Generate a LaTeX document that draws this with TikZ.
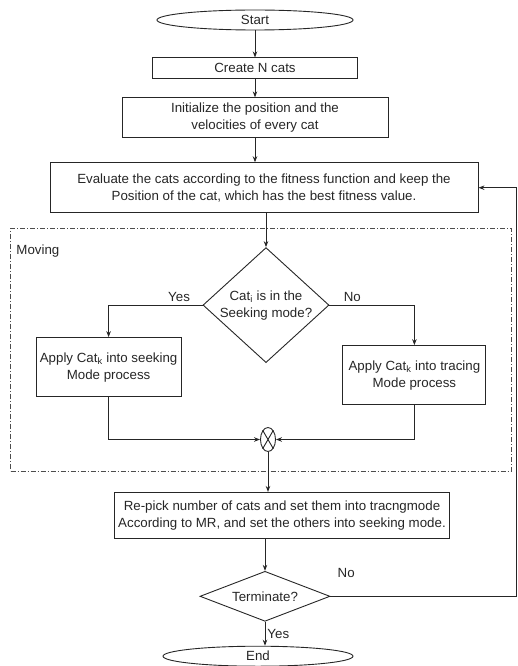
\documentclass[tikz,border=0pt]{standalone}
\usepackage{fontspec}
\setmainfont{Liberation Sans}
\usetikzlibrary{positioning,shapes.geometric,arrows.meta,fit}

\tikzset{
  every node/.style={font=\fontsize{13.3}{17}\selectfont, text=black!85},
  flowline/.style={draw=black!85, line width=0.9pt},
  arrow/.style={flowline, -{Stealth[length=6pt,width=4.5pt]}},
  terminal/.style={ellipse, draw=black!85, line width=0.9pt, inner sep=0pt},
  process/.style={rectangle, draw=black!85, line width=0.9pt, align=center, inner sep=2pt},
  decision/.style={diamond, draw=black!85, line width=0.9pt, align=center, inner sep=0pt},
  junction/.style={ellipse, draw=black!85, line width=0.9pt, minimum width=15pt, minimum height=24pt, inner sep=0pt},
  movingframe/.style={draw=black!70, line width=0.8pt, dash pattern=on 5pt off 2pt on 1pt off 2pt},
}

\begin{document}
\begin{tikzpicture}[x=1pt,y=1pt]

  \useasboundingbox (-255,20) rectangle (263,-646);

  % Start and set-up
  \node[terminal, minimum width=196pt, minimum height=20pt] (start) {Start};
  \node[process, minimum width=205pt, minimum height=21pt, below=27pt of start] (create) {Create N cats};
  \node[process, minimum width=266pt, minimum height=40pt, below=18pt of create] (init) {Initialize the position and the\\velocities of every cat};
  \node[process, minimum width=428pt, minimum height=50pt, below=24pt of init, xshift=9pt] (eval) {Evaluate the cats according to the fitness function and keep the\\Position of the cat, which has the best fitness value.};

  % Moving
  \node[decision, aspect=1.1, minimum width=126pt, minimum height=115pt, below=34pt of eval, xshift=2pt] (seek) {Cat\textsubscript{i} is in the\\Seeking mode?};
  \node[process, minimum width=145pt, minimum height=59pt, left=21pt of seek, yshift=-62pt] (seekbox) {Apply Cat\textsubscript{k} into seeking\\Mode process};
  \node[process, minimum width=143pt, minimum height=59pt, right=13pt of seek, yshift=-70pt] (tracebox) {Apply Cat\textsubscript{k} into tracing\\Mode process};
  \node[junction, below=64pt of seek, xshift=2pt] (merge) {};
  \node[movingframe, fit=(seek)(seekbox)(tracebox)(merge), inner xsep=25pt, inner ysep=19pt] (moving) {};
  \node[below right=17pt and 6pt of moving.north west, inner sep=0pt] (movinglabel) {Moving};

  % Re-pick and stop test
  \node[process, minimum height=46pt, inner xsep=4pt, below=40pt of merge, xshift=14pt] (repick) {Re-pick number of cats and set them into tracngmode\\According to MR, and set the others into seeking mode.};
  \node[decision, aspect=1.8, minimum width=130pt, minimum height=50pt, below=32pt of repick, xshift=-17pt] (term) {Terminate?};
  \node[terminal, minimum width=190pt, minimum height=20pt, below=24pt of term, xshift=-7pt] (end) {End};
  \node[above right=18pt and 7pt of term.east, inner sep=0pt] (termno) {No};
  \coordinate[right=186pt of term.east] (loop);

  % Edges
  \draw[arrow] (start) -- (create);
  \draw[arrow] (create) -- (init);
  \draw[arrow] (init) -- (init.south |- eval.north);
  \draw[arrow] (eval.south -| seek) -- (seek);
  \draw[arrow] (seek.west) -- node[above, pos=0.25] {Yes} (seek.west -| seekbox.north) -- (seekbox.north);
  \draw[arrow] (seek.east) -- node[above, pos=0.27] {No} (seek.east -| tracebox.north) -- (tracebox.north);
  \draw[arrow] (seekbox.south) |- (merge.west);
  \draw[arrow] (tracebox.south) |- (merge.east);
  \draw[flowline] (merge.60) -- (merge.240) (merge.120) -- (merge.300);
  \draw[arrow] (merge.south) -- (merge.south |- repick.north);
  \draw[arrow] (repick.south -| term.north) -- (term.north);
  \draw[arrow] (term.south) -- node[right, inner sep=2pt] {Yes} (term.south |- end.north);
  \draw[arrow] (term.east) -- (loop) |- (eval.east);

\end{tikzpicture}
\end{document}
